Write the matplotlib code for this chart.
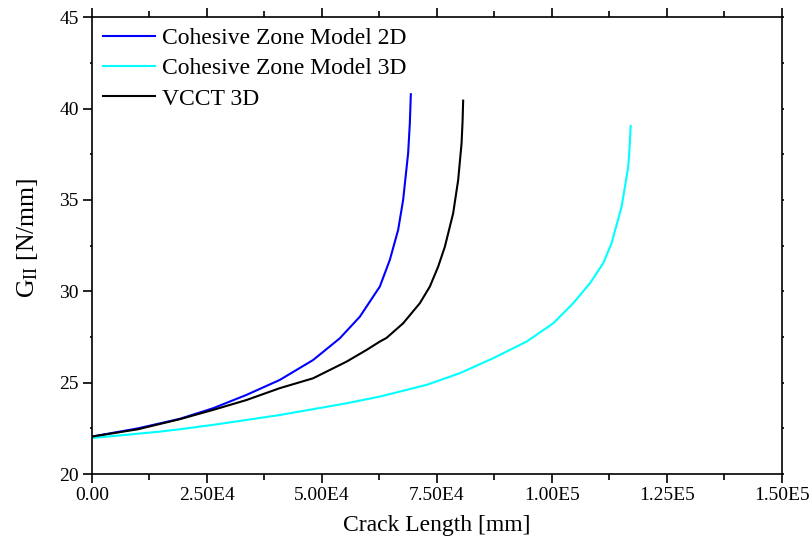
import matplotlib
matplotlib.use("Agg")
import matplotlib.pyplot as plt
from matplotlib.ticker import MultipleLocator

plt.rcParams['font.family'] = ['Liberation Serif', 'DejaVu Serif']
plt.rcParams['mathtext.fontset'] = 'custom'
plt.rcParams['mathtext.rm'] = 'Liberation Serif'
plt.rcParams['mathtext.it'] = 'Liberation Serif:italic'

# Energy release rate G_II vs crack length for the three models
czm2d_x = [0, 10000, 19082, 26327, 33594, 40841, 48086, 53898, 58249, 62598,
           64774, 66580, 67668, 68755, 69126, 69343]
czm2d_y = [22.05, 22.5, 23.02, 23.60, 24.33, 25.15, 26.24, 27.43, 28.61, 30.26,
           31.72, 33.36, 35.0, 37.56, 39.2, 40.79]

czm3d_x = [0, 14730, 19082, 26327, 33594, 40841, 48086, 55352, 62598, 65494,
           72761, 80007, 87253, 94519, 100307, 104659, 108292, 111186, 113013,
           115181, 116624, 116929, 117146]
czm3d_y = [21.97, 22.32, 22.45, 22.69, 22.96, 23.23, 23.55, 23.87, 24.24, 24.42,
           24.88, 25.52, 26.34, 27.25, 28.25, 29.35, 30.44, 31.54, 32.65,
           34.63, 36.82, 37.92, 39.05]

vcct_x = [0, 10000, 19082, 26327, 33594, 40841, 48086, 55352, 59704, 62598,
          64056, 67668, 71301, 73477, 75283, 76741, 78547, 79635, 80374,
          80592, 80722]
vcct_y = [22.05, 22.45, 23.0, 23.51, 24.05, 24.70, 25.24, 26.15, 26.79, 27.25,
          27.45, 28.25, 29.35, 30.26, 31.35, 32.44, 34.27, 36.09, 38.10,
          39.29, 40.44]

x_ticks = [0, 25000, 50000, 75000, 100000, 125000, 150000]
x_tick_labels = ["0.00", "2.50E4", "5.00E4", "7.50E4", "1.00E5", "1.25E5", "1.50E5"]
y_ticks = [20, 25, 30, 35, 40, 45]

fig = plt.figure(figsize=(8.11, 5.51), dpi=100)
ax = fig.add_axes([0.1134, 0.1397, 0.8505, 0.8289])

ax.plot(czm2d_x, czm2d_y, color='#0000ff', lw=1.5, label='Cohesive Zone Model 2D')
ax.plot(czm3d_x, czm3d_y, color='#00ffff', lw=1.5, label='Cohesive Zone Model 3D')
ax.plot(vcct_x, vcct_y, color='black', lw=1.5, label='VCCT 3D')

ax.set_xlim(0, 150000)
ax.set_ylim(20, 45)
ax.set_xticks(x_ticks)
ax.set_xticklabels(x_tick_labels)
ax.set_yticks(y_ticks)
ax.xaxis.set_minor_locator(MultipleLocator(12500))
ax.yaxis.set_minor_locator(MultipleLocator(2.5))

for s in ax.spines.values():
    s.set_linewidth(1.2)

ax.tick_params(axis='x', which='major', direction='out', length=6.5, width=1.2,
               top=True, labelsize=14, pad=3)
ax.tick_params(axis='x', which='minor', direction='out', length=4, width=1.2, top=True)
ax.tick_params(axis='y', which='major', direction='out', length=6.5, width=1.2,
               right=True, labelsize=14, pad=3)
ax.tick_params(axis='y', which='minor', direction='out', length=1.2, width=1.2, right=True)
for t in ax.yaxis.get_major_ticks():
    t.tick2line.set_markersize(1.2)

ax.set_xlabel('Crack Length [mm]', fontsize=17, labelpad=8)
ax.set_ylabel(r'G$_{\mathrm{II}}$ [N/mm]', fontsize=18.5)
ax.yaxis.set_label_coords(-0.075, 0.518)

ax.legend(loc='upper left', frameon=False, fontsize=17, handlelength=2.2,
          handletextpad=0.3, labelspacing=0.36, borderaxespad=0.3,
          borderpad=0.15)

fig.savefig('out.png', dpi=100)
